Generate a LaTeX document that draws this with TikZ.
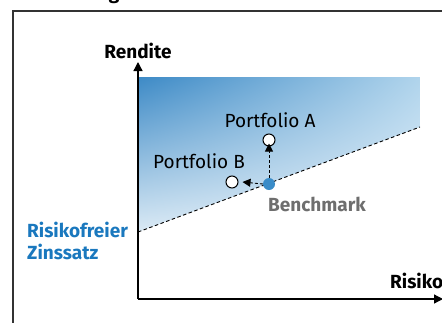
\documentclass[tikz,border=0pt]{standalone}
\usepackage{fontspec}
\setmainfont{Fira Sans}
\usetikzlibrary{arrows.meta,shadings}
\definecolor{topblue}{HTML}{3D8AC6}
\definecolor{midblue}{HTML}{B0D4EC}
\definecolor{lowblue}{HTML}{DBEAF5}
\definecolor{paleblue}{HTML}{EAF3FA}
\definecolor{labelblue}{HTML}{1A78BE}
\definecolor{dotblue}{HTML}{3A8CC8}
\definecolor{benchgray}{HTML}{6E6E6E}
\tikzset{
  axis/.style={line width=1.3pt, -{Triangle[length=9pt,width=9pt]}},
  frame/.style={draw=black!80, line width=1.3pt},
  portfolio/.style={circle, draw=black, fill=white, line width=1pt, minimum size=12pt, inner sep=0pt},
  benchdot/.style={circle, fill=dotblue, minimum size=12pt, inner sep=0pt},
  move/.style={line width=0.9pt, dash pattern=on 3pt off 2pt, -{Triangle[length=8pt,width=8pt]}},
  lbl/.style={font=\fontsize{19}{21}\selectfont, inner sep=0pt},
  blbl/.style={font=\fontsize{19}{21}\selectfont\bfseries, inner sep=0pt},
}
\begin{document}
\begin{tikzpicture}[x=1pt,y=-1pt]
\useasboundingbox (0,0) rectangle (442,322);
% outer frame, running off the right and bottom
\draw[frame] (13,340) -- (13,11) -- (460,11);
% heading descender cut at the top
\node[blbl, anchor=base] (head) at (114,-1) {g};
% shaded zone above the benchmark line
\begin{scope}
  \clip (138,77) -- (420,77) -- (420,127) -- (138,232) -- cycle;
  \shade[upper left=topblue, upper right=midblue, lower left=lowblue, lower right=paleblue]
    (138,77) rectangle (420,232);
\end{scope}
% axes
\coordinate (origin) at (138,299);
\coordinate (ytop) at (138,62);
\coordinate (xend) at (443,299);
\draw[axis] (origin) -- (ytop);
\draw[axis] (origin) -- (xend);
\node[blbl] (rendite) at (138,51) {Rendite};
\node[blbl, anchor=west] (risiko) at (390,281) {Risiko};
% benchmark line
\coordinate (rf) at (138,232);
\coordinate (lineend) at (420,127);
\draw[line width=0.9pt, dash pattern=on 3.5pt off 2.5pt] (rf) -- (lineend);
\node[blbl, text=labelblue, align=left, anchor=north west] (rfl) at (27,222) {Risikofreier\\[1pt]Zinssatz};
% portfolios
\node[benchdot] (bench) at (269,184) {};
\node[portfolio] (pa) at (269,140) {};
\node[portfolio] (pb) at (232,182) {};
\draw[move] (bench.north) -- ([yshift=3pt]pa.south);
\draw[move] (bench.west) -- ([xshift=4pt]pb.east);
\node[lbl] (pal) at (270,120) {Portfolio A};
\node[lbl] (pbl) at (199,161) {Portfolio B};
\node[blbl, text=benchgray] (bl) at (317,204) {Benchmark};
\end{tikzpicture}
\end{document}
